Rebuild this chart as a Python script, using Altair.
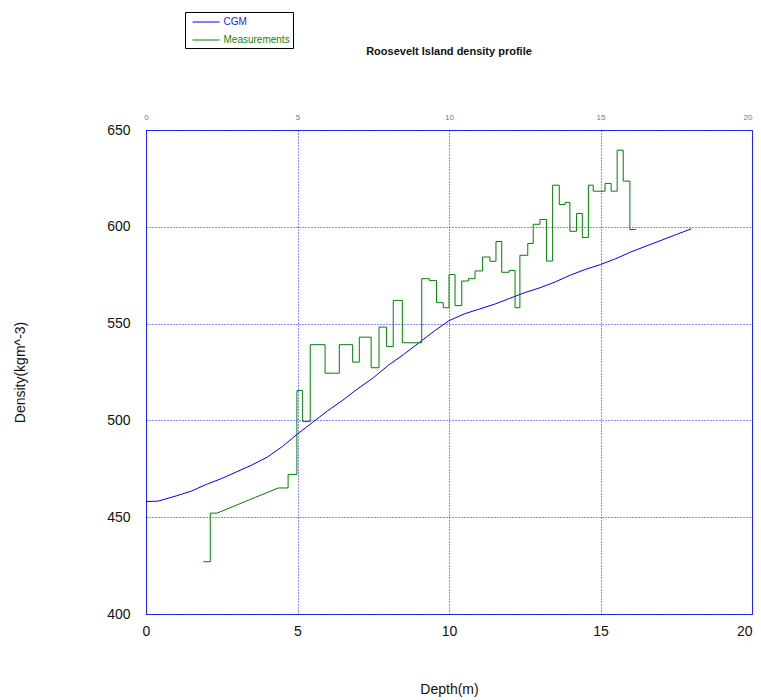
import altair as alt
import pandas as pd

# CGM model curve (depth m, density kg m^-3)
cgm_depth = [0, 0.4, 1.0, 1.5, 2.0, 2.5, 3.0, 3.5, 4.0, 4.5, 5.0, 5.5, 6.0, 6.5, 7.0, 7.5,
             8.0, 8.5, 9.0, 9.5, 10.0, 10.5, 11.0, 11.5, 12.0, 12.5, 13.0, 13.5, 14.0,
             14.5, 15.0, 15.5, 16.0, 16.5, 17.0, 17.5, 18.0]
cgm_density = [458.1, 458.3, 461, 463.5, 467, 470, 473.5, 477, 481, 486.5, 493, 499, 505,
               510.5, 516.5, 522, 528.5, 534, 540, 546, 551.5, 555, 557.5, 560, 563, 566,
               568.5, 571.5, 575, 578, 580.5, 583.5, 587, 590, 593, 596, 599]

# Measurements: sample intervals (top depth, bottom depth) and density
meas_top = [1.89, 2.12, 4.37, 4.69, 4.98, 5.17, 5.42, 5.91, 6.38, 6.82, 7.04, 7.43, 7.69,
            7.94, 8.16, 8.46, 9.10, 9.35, 9.59, 9.81, 10.0, 10.2, 10.42, 10.64, 10.86,
            11.11, 11.35, 11.55, 11.74, 11.98, 12.18, 12.34, 12.6, 12.78, 13.0, 13.22,
            13.42, 13.64, 13.83, 13.99, 14.21, 14.4, 14.6, 14.76, 15.15, 15.35, 15.55,
            15.75, 15.97]
meas_bottom = [2.12, 2.34, 4.69, 4.98, 5.17, 5.42, 5.91, 6.38, 6.82, 7.04, 7.43, 7.69,
               7.94, 8.16, 8.46, 9.10, 9.35, 9.59, 9.81, 10.0, 10.2, 10.42, 10.64, 10.86,
               11.11, 11.35, 11.55, 11.74, 11.98, 12.18, 12.34, 12.6, 12.78, 13.0, 13.22,
               13.42, 13.64, 13.83, 13.99, 14.21, 14.4, 14.6, 14.76, 15.15, 15.35, 15.55,
               15.75, 15.97, 16.17]
meas_density = [427.0, 452.1, 465.1, 472.1, 515.4, 499.4, 539.1, 524.4, 539.1, 530.1,
                543.0, 527.2, 548.2, 538.2, 562.0, 540.1, 573.2, 572.2, 560.8, 558.2,
                575.3, 559.3, 572.0, 573.2, 577.2, 584.4, 582.2, 592.4, 576.5, 577.4,
                558.2, 585.3, 591.4, 601.3, 603.8, 582.3, 621.5, 611.5, 612.6, 597.7,
                606.9, 594.5, 621.5, 618.4, 622.4, 618.4, 639.6, 623.6, 598.6]

x_ticks = [0, 5, 10, 15, 20]
y_ticks = [400, 450, 500, 550, 600, 650]
series_names = ["CGM", "Measurements"]
series_colors = ["#0000ff", "#008000"]

cgm_df = pd.DataFrame({"depth": cgm_depth, "density": cgm_density,
                       "series": "CGM", "order": range(len(cgm_depth))})
rows = []
for i, (t, b, d) in enumerate(zip(meas_top, meas_bottom, meas_density)):
    rows.append({"depth": t, "density": d, "series": "Measurements", "order": 2 * i})
    rows.append({"depth": b, "density": d, "series": "Measurements", "order": 2 * i + 1})
meas_df = pd.DataFrame(rows)

FONT = "Liberation Sans"
xscale = alt.Scale(domain=[0, 20], nice=False)
yscale = alt.Scale(domain=[400, 650], nice=False)
cscale = alt.Scale(domain=series_names, range=series_colors)
last_label_align = {"condition": {"test": "datum.value == 20", "value": "right"},
                    "value": "center"}

legend = alt.Legend(
    title=None, orient="none", legendX=39, legendY=-118,
    symbolType="M-2,0H2", symbolSize=182, symbolStrokeWidth=1, symbolOffset=11,
    labelFontSize=10, labelFont=FONT, labelOffset=10,
    labelColor={"expr": "datum.label == 'CGM' ? '#2222ee' : '#118811'"},
    strokeColor="black", fillColor="white", padding=2.5, rowPadding=5,
)

y_enc = alt.Y("density:Q", scale=yscale,
              axis=alt.Axis(values=y_ticks, title="Density(kgm^-3)", grid=True,
                            gridColor="#0000ff", gridDash=[1, 2], gridOpacity=0.9,
                            ticks=False, domain=False, labelFontSize=14,
                            labelPadding=16, titlePadding=79, titleFontSize=14,
                            titleFontWeight="normal", labelColor="#111",
                            titleColor="#111"))

cgm = alt.Chart(cgm_df).mark_line(strokeWidth=1).encode(
    x=alt.X("depth:Q", scale=xscale,
            axis=alt.Axis(values=x_ticks, title="Depth(m)", grid=True,
                          gridColor="#0000ff", gridDash=[1, 2], gridOpacity=0.9,
                          ticks=False, domain=False, labelFontSize=14,
                          labelFlush=False, labelAlign=last_label_align,
                          labelPadding=10, titlePadding=44,
                          titleFontSize=14, titleFontWeight="normal",
                          labelColor="#111", titleColor="#111")),
    y=y_enc,
    color=alt.Color("series:N", scale=cscale, legend=legend),
    order="order:Q",
)

meas = alt.Chart(meas_df).mark_line(strokeWidth=1).encode(
    x=alt.X("depth:Q", scale=xscale,
            axis=alt.Axis(values=x_ticks, orient="top", title=None, grid=False,
                          ticks=False, domain=False, labelFontSize=8,
                          labelFlush=False, labelAlign=last_label_align,
                          labelPadding=9, labelColor="#777")),
    y=alt.Y("density:Q", scale=yscale),
    color=alt.Color("series:N", scale=cscale, legend=legend),
    order="order:Q",
)

chart = alt.layer(cgm, meas).resolve_axis(x="independent").properties(
    width=606, height=484,
    autosize=alt.AutoSizeParams(type="none"),
    padding={"left": 138, "top": 122, "right": 1, "bottom": 86},
    title=alt.TitleParams("Roosevelt Island density profile", fontSize=11,
                          fontWeight="bold", font=FONT, anchor="middle",
                          offset=-45, color="#111"),
).configure_view(stroke="#3333ee", strokeWidth=1).configure_axis(
    labelFont=FONT, titleFont=FONT
)

chart.save("out.html", embed_options={"renderer": "svg", "actions": False})
